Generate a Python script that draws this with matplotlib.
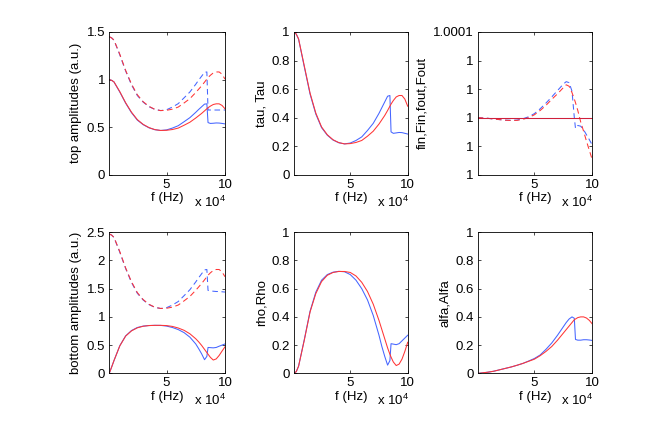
import numpy as np
import matplotlib
matplotlib.use("Agg")
import matplotlib.pyplot as plt

plt.rcParams["font.family"] = ["Liberation Sans", "DejaVu Sans"]
plt.rcParams["font.size"] = 9.5
plt.rcParams["mathtext.fontset"] = "custom"
plt.rcParams["mathtext.rm"] = "Liberation Sans"
plt.rcParams["lines.scale_dashes"] = False

# frecuencia en unidades de 1e4 Hz
f = [0.1, 0.3, 0.5, 1, 1.5, 2, 2.5, 3, 3.5, 4, 4.5, 5, 5.5, 6, 6.5, 7, 7.5, 7.75,
     8, 8.25, 8.45, 8.55, 8.75, 9, 9.25, 9.5, 9.75, 10]

amp_sup_azul = [1.0, 0.992, 0.975, 0.869, 0.752, 0.652, 0.574, 0.526, 0.493, 0.473,
                0.465, 0.471, 0.490, 0.515, 0.557, 0.600, 0.656, 0.686, 0.714, 0.742,
                0.745, 0.548, 0.539, 0.541, 0.544, 0.543, 0.539, 0.534]
amp_sup_rojo = [1.0, 0.992, 0.976, 0.873, 0.756, 0.657, 0.579, 0.529, 0.495, 0.474,
                0.465, 0.467, 0.475, 0.490, 0.520, 0.552, 0.596, 0.620, 0.644, 0.671,
                0.693, 0.704, 0.721, 0.738, 0.745, 0.745, 0.728, 0.693]
amp_sup_azul_t = [1.45, 1.438, 1.414, 1.260, 1.090, 0.945, 0.832, 0.763, 0.715, 0.686,
                  0.674, 0.683, 0.711, 0.747, 0.808, 0.870, 0.951, 0.995, 1.035, 1.076,
                  1.080, 0.68, 0.68, 0.68, 0.68, 0.68, 0.68, 0.68]
amp_sup_rojo_t = [1.45, 1.438, 1.415, 1.266, 1.096, 0.953, 0.840, 0.767, 0.718, 0.687,
                  0.674, 0.677, 0.689, 0.711, 0.754, 0.800, 0.864, 0.899, 0.934, 0.973,
                  1.005, 1.021, 1.045, 1.070, 1.080, 1.080, 1.056, 1.005]

tau_azul = [1.0, 0.985, 0.95, 0.755, 0.565, 0.425, 0.33, 0.277, 0.243, 0.224,
            0.216, 0.222, 0.24, 0.265, 0.31, 0.36, 0.43, 0.47, 0.51, 0.55,
            0.555, 0.30, 0.29, 0.293, 0.296, 0.295, 0.29, 0.285]
tau_rojo = [1.0, 0.985, 0.952, 0.762, 0.572, 0.432, 0.335, 0.28, 0.245, 0.225,
            0.216, 0.218, 0.226, 0.24, 0.27, 0.305, 0.355, 0.385, 0.415, 0.45,
            0.48, 0.495, 0.52, 0.545, 0.555, 0.555, 0.53, 0.48]

# desvio de fin/Fin respecto de 1, en unidades de 1e-5
fin_azul = [0, -0.01, -0.02, -0.05, -0.1, -0.14, -0.18, -0.19, -0.17, -0.08,
            0.06, 0.28, 0.62, 1.02, 1.45, 1.9, 2.35, 2.52, 2.45, 1.85,
            0.0, -0.75, -0.55, -0.6, -0.85, -1.2, -1.55, -1.92]
fin_rojo = [0, -0.01, -0.02, -0.05, -0.1, -0.14, -0.18, -0.2, -0.19, -0.12,
            0.0, 0.2, 0.5, 0.86, 1.28, 1.67, 2.1, 2.3, 2.2, 1.75,
            1.3, 1.05, 0.5, -0.3, -0.95, -1.65, -2.3, -2.95]
fout = [1.0] * len(f)

amp_inf_azul = [0.0, 0.11, 0.224, 0.490, 0.663, 0.758, 0.812, 0.837, 0.847, 0.850,
                0.849, 0.837, 0.812, 0.775, 0.721, 0.640, 0.520, 0.436, 0.346, 0.241,
                0.300, 0.458, 0.455, 0.451, 0.458, 0.480, 0.500, 0.520]
amp_inf_rojo = [0.0, 0.11, 0.224, 0.485, 0.660, 0.752, 0.806, 0.834, 0.846, 0.850,
                0.850, 0.846, 0.831, 0.803, 0.762, 0.700, 0.612, 0.557, 0.495, 0.424,
                0.367, 0.339, 0.283, 0.235, 0.255, 0.316, 0.394, 0.469]
amp_inf_azul_t = [2.47, 2.45, 2.408, 2.146, 1.857, 1.610, 1.418, 1.299, 1.218, 1.168,
                  1.149, 1.163, 1.210, 1.272, 1.376, 1.482, 1.620, 1.694, 1.764, 1.833,
                  1.840, 1.47, 1.46, 1.455, 1.45, 1.45, 1.445, 1.44]
amp_inf_rojo_t = [2.47, 2.45, 2.411, 2.156, 1.867, 1.623, 1.430, 1.307, 1.223, 1.171,
                  1.149, 1.153, 1.173, 1.210, 1.284, 1.363, 1.472, 1.531, 1.591, 1.657,
                  1.712, 1.739, 1.781, 1.823, 1.840, 1.840, 1.798, 1.712]

rho_azul = [0.0, 0.012, 0.05, 0.24, 0.44, 0.575, 0.66, 0.70, 0.717, 0.723,
            0.72, 0.70, 0.66, 0.60, 0.52, 0.41, 0.27, 0.19, 0.12, 0.058,
            0.09, 0.21, 0.207, 0.203, 0.21, 0.23, 0.25, 0.27]
rho_rojo = [0.0, 0.012, 0.05, 0.235, 0.435, 0.565, 0.65, 0.695, 0.715, 0.722,
            0.722, 0.715, 0.69, 0.645, 0.58, 0.49, 0.375, 0.31, 0.245, 0.18,
            0.135, 0.115, 0.08, 0.055, 0.065, 0.10, 0.155, 0.22]

alfa_azul = [0.0, 0.001, 0.003, 0.008, 0.015, 0.025, 0.035, 0.045, 0.057, 0.07,
             0.087, 0.105, 0.13, 0.17, 0.215, 0.27, 0.33, 0.36, 0.385, 0.40,
             0.39, 0.24, 0.235, 0.235, 0.238, 0.238, 0.236, 0.233]
alfa_rojo = [0.0, 0.001, 0.003, 0.008, 0.015, 0.025, 0.035, 0.045, 0.057, 0.07,
             0.085, 0.10, 0.125, 0.155, 0.19, 0.235, 0.285, 0.31, 0.335, 0.36,
             0.38, 0.385, 0.395, 0.40, 0.40, 0.392, 0.375, 0.35]

xticks = [5e4, 1e5]
xtick_labels = ["5", "10"]
fin_yticks = [0.99996, 0.99998, 1.0, 1.00002, 1.00004, 1.00006]
fin_ytick_labels = ["1", "1", "1", "1", "1", "1.0001"]

AZUL = "#4565ff"
ROJO = "#ff3535"
LW = 0.75
GUIONES = (4.0, 2.6)

f_hz = np.array(f) * 1e4


def estilo(ax, ylabel, yticks, ylim):
    ax.set_xlim(f_hz[0], 1e5)
    ax.set_ylim(*ylim)
    ax.set_xticks(xticks)
    ax.set_xticklabels(xtick_labels)
    ax.set_yticks(yticks)
    ax.tick_params(direction="in", top=True, right=True, length=2.5, width=0.5, pad=3)
    for s in ax.spines.values():
        s.set_linewidth(0.6)
    ax.set_xlabel("f (Hz)", labelpad=1)
    ax.set_ylabel(ylabel, labelpad=3)
    ax.text(1.01, -0.195, r"x 10$^{\mathrm{4}}$", transform=ax.transAxes,
            ha="right", va="center")


fig = plt.figure(figsize=(6.54, 4.21), dpi=100)

lefts = [0.1671, 0.4495, 0.7304]
widths = [0.1769, 0.1739, 0.1752]
row_top = (0.585, 0.339)
row_bot = (0.1133, 0.335)

# amplitudes superiores
ax1 = fig.add_axes([lefts[0], row_top[0], widths[0], row_top[1]])
ax1.plot(f_hz, amp_sup_azul_t, color=AZUL, lw=LW, dashes=GUIONES)
ax1.plot(f_hz, amp_sup_rojo_t, color=ROJO, lw=LW, dashes=GUIONES)
ax1.plot(f_hz, amp_sup_azul, color=AZUL, lw=LW)
ax1.plot(f_hz, amp_sup_rojo, color=ROJO, lw=LW)
estilo(ax1, "top amplitudes (a.u.)", [0, 0.5, 1, 1.5], (0, 1.5))
ax1.set_yticklabels(["0", "0.5", "1", "1.5"])

# tau
ax2 = fig.add_axes([lefts[1], row_top[0], widths[1], row_top[1]])
ax2.plot(f_hz, tau_azul, color=AZUL, lw=LW)
ax2.plot(f_hz, tau_rojo, color=ROJO, lw=LW)
estilo(ax2, "tau, Tau", [0, 0.2, 0.4, 0.6, 0.8, 1], (0, 1))
ax2.set_yticklabels(["0", "0.2", "0.4", "0.6", "0.8", "1"])

# fin, fout
ax3 = fig.add_axes([lefts[2], row_top[0], widths[2], row_top[1]])
ax3.plot(f_hz, 1 + np.array(fin_azul) * 1e-5, color=AZUL, lw=LW, dashes=GUIONES)
ax3.plot(f_hz, 1 + np.array(fin_rojo) * 1e-5, color=ROJO, lw=LW, dashes=GUIONES)
ax3.plot(f_hz, fout, color=AZUL, lw=LW)
ax3.plot(f_hz, fout, color="#d0203a", lw=LW)
estilo(ax3, "fin,Fin,fout,Fout", fin_yticks, (fin_yticks[0], fin_yticks[-1]))
ax3.set_yticklabels(fin_ytick_labels)

# amplitudes inferiores
ax4 = fig.add_axes([lefts[0], row_bot[0], widths[0], row_bot[1]])
ax4.plot(f_hz, amp_inf_azul_t, color=AZUL, lw=LW, dashes=GUIONES)
ax4.plot(f_hz, amp_inf_rojo_t, color=ROJO, lw=LW, dashes=GUIONES)
ax4.plot(f_hz, amp_inf_azul, color=AZUL, lw=LW)
ax4.plot(f_hz, amp_inf_rojo, color=ROJO, lw=LW)
estilo(ax4, "bottom amplitudes (a.u.)", [0, 0.5, 1, 1.5, 2, 2.5], (0, 2.5))
ax4.set_yticklabels(["0", "0.5", "1", "1.5", "2", "2.5"])

# rho
ax5 = fig.add_axes([lefts[1], row_bot[0], widths[1], row_bot[1]])
ax5.plot(f_hz, rho_azul, color=AZUL, lw=LW)
ax5.plot(f_hz, rho_rojo, color=ROJO, lw=LW)
estilo(ax5, "rho,Rho", [0, 0.2, 0.4, 0.6, 0.8, 1], (0, 1))
ax5.set_yticklabels(["0", "0.2", "0.4", "0.6", "0.8", "1"])

# alfa
ax6 = fig.add_axes([lefts[2], row_bot[0], widths[2], row_bot[1]])
ax6.plot(f_hz, alfa_azul, color=AZUL, lw=LW)
ax6.plot(f_hz, alfa_rojo, color=ROJO, lw=LW)
estilo(ax6, "alfa,Alfa", [0, 0.2, 0.4, 0.6, 0.8, 1], (0, 1))
ax6.set_yticklabels(["0", "0.2", "0.4", "0.6", "0.8", "1"])

fig.savefig("out.png", dpi=100)
